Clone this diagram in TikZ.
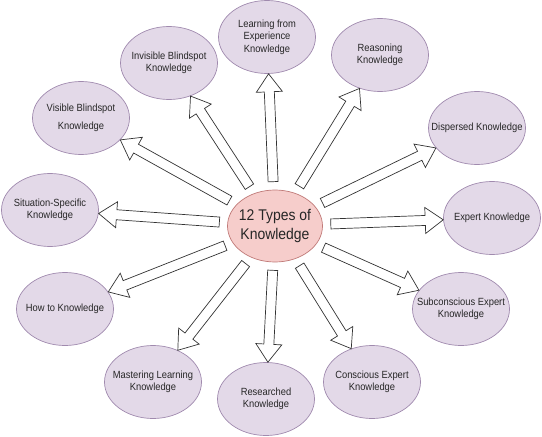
\documentclass[tikz,border=0pt]{standalone}
\usepackage{fontspec}
\setmainfont{Liberation Sans}
\newfontfamily\narrowsans[FakeStretch=0.9]{Liberation Sans}
\usetikzlibrary{shapes.geometric,calc}
\definecolor{outfill}{HTML}{E3D9E8}
\definecolor{outdraw}{HTML}{A08AAE}
\definecolor{cenfill}{HTML}{F6CDCB}
\definecolor{cendraw}{HTML}{C07A78}
\definecolor{txt}{HTML}{262626}
\tikzset{
  lbl/.style={align=center, text=txt, font=\narrowsans\fontsize{10.4}{12.5}\selectfont, inner sep=0},
  outer/.style={ellipse, draw=outdraw, fill=outfill, line width=0.7pt,
    minimum width=97pt, minimum height=73pt, inner sep=0pt,
    label={[lbl]center:{#1}}},
  centre/.style={ellipse, draw=cendraw, fill=cenfill, line width=0.7pt,
    minimum width=95pt, minimum height=72pt, inner sep=0pt,
    label={[align=center, text=txt, font=\narrowsans\fontsize{15.5}{18.5}\selectfont, inner sep=0]center:{#1}}},
  blk/.style={draw=black!80, fill=white, line width=0.7pt, line join=miter}
}
\newcommand{\blockarrow}[2]{%
  \path (#1) -- coordinate[pos=0] (s0) coordinate[pos=1] (e0) (#2);
  \coordinate (bs) at ($(s0)!8pt!(e0)$);
  \coordinate (bh) at ($(e0)!18pt!(s0)$);
  \draw[blk] ($(bs)!5pt!90:(e0)$) -- ($(bh)!5pt!-90:(bs)$) -- ($(bh)!13pt!-90:(bs)$)
    -- (e0) -- ($(bh)!13pt!90:(bs)$) -- ($(bh)!5pt!90:(bs)$) -- ($(bs)!5pt!-90:(e0)$) -- cycle;
}
\begin{document}
\begin{tikzpicture}[x=1pt, y=-1pt]
\useasboundingbox (0,0) rectangle (542,437);
\node[centre={12 Types of\\Knowledge}] (c) at (275,226) {};
\node[outer={Learning from\\Experience\\Knowledge}] (learn) at (267,37) {};
\node[outer={Invisible Blindspot\\Knowledge}] (invis) at (169,63) {};
\node[outer={Reasoning\\Knowledge}] (reason) at (380,55) {};
\node[outer={Visible Blindspot\\[6pt]Knowledge}] (vis) at (81,118) {};
\node[outer={Dispersed Knowledge}] (disp) at (477,128) {};
\node[outer={Situation-Specific\\Knowledge}] (sit) at (50,210) {};
\node[outer={Expert Knowledge}] (expert) at (492,218) {};
\node[outer={How to Knowledge}] (how) at (65,309) {};
\node[outer={Subconscious Expert\\Knowledge}] (subcon) at (461,309) {};
\node[outer={Mastering Learning\\Knowledge}] (master) at (153,382) {};
\node[outer={Researched\\Knowledge}] (research) at (266,399) {};
\node[outer={Conscious Expert\\Knowledge}] (consc) at (372,382) {};
\blockarrow{c}{learn}
\blockarrow{c}{invis}
\blockarrow{c}{reason}
\blockarrow{c}{vis}
\blockarrow{c}{disp}
\blockarrow{c}{sit}
\blockarrow{c}{expert}
\blockarrow{c}{how}
\blockarrow{c}{subcon}
\blockarrow{c}{master}
\blockarrow{c}{research}
\blockarrow{c}{consc}
\end{tikzpicture}
\end{document}
